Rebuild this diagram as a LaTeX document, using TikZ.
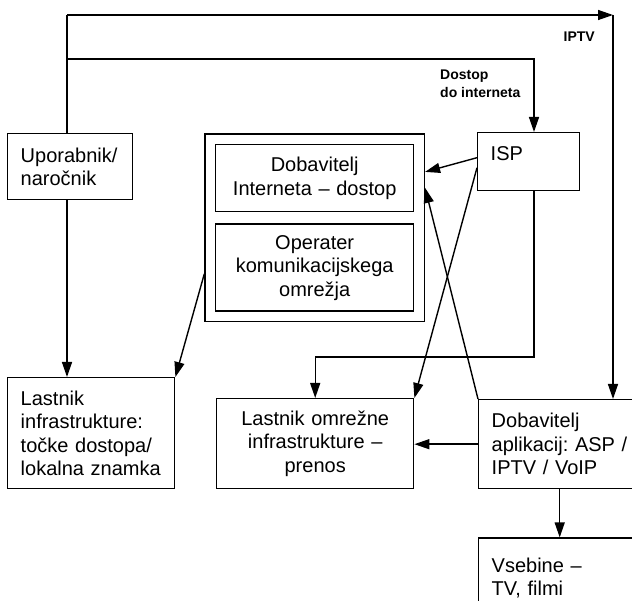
\documentclass[tikz,border=0pt]{standalone}
\usepackage{fontspec}
\setmainfont{Liberation Sans}
\usetikzlibrary{positioning, arrows.meta, fit}

\newcommand{\boxfont}{\fontsize{20}{23.5}\selectfont\frenchspacing}
\newcommand{\lblfont}{\fontsize{14}{18}\selectfont\bfseries}

\begin{document}
\begin{tikzpicture}[
    x=1pt, y=-1pt,
    font=\boxfont,
    box/.style={
        rectangle,
        draw=black,
        line width=1.4pt,
        inner xsep=13pt,
        inner ysep=0pt,
        align=left
    },
    cbox/.style={box, align=center},
    arrow/.style={-{Triangle[length=15pt, width=10pt]}, line width=1.4pt},
    line/.style={line width=1.4pt},
    labelstyle/.style={font=\lblfont, inner sep=0pt, align=left}
]
\useasboundingbox (0,0) rectangle (632,601);

% --- Levi stolpec ---
\node[box, anchor=north west, text width=99pt, minimum height=66pt] (uporabnik) at (7,133) {Uporabnik/\\naročnik};
\node[box, anchor=north west, text width=141pt, minimum height=111pt] (lastinfra) at (7,377) {Lastnik\\infrastrukture:\\točke dostopa/\\lokalna znamka};

% --- Sredina ---
\node[cbox, anchor=north west, text width=172pt, minimum height=67pt] (dobint) at (215,144) {Dobavitelj\\Interneta – dostop};
\node[cbox, below=11pt of dobint, text width=172pt, minimum height=87pt] (operater) {Operater\\komunikacijskega\\omrežja};
\node[draw, line width=1.4pt, fit=(dobint)(operater), inner sep=10pt] (okvir) {};
\node[cbox, anchor=north west, text width=171pt, minimum height=90pt] (lastomr) at (216,398) {Lastnik omrežne\\infrastrukture –\\prenos};

% --- Desni stolpec ---
\node[box, anchor=north west, text width=76pt, text height=28pt, text depth=30pt] (isp) at (477,132) {ISP};
\node[box, anchor=north west, text width=136pt, minimum height=89pt] (dobapl) at (478,399) {Dobavitelj\\aplikacij: ASP /\\IPTV / VoIP};
\node[box, below=48pt of dobapl, text width=136pt, minimum height=80pt] (vsebine) {Vsebine –\\TV, filmi};

% --- Oznake ---
\node[labelstyle, anchor=east] (iptv) at (595,37) {IPTV};
\node[labelstyle, anchor=north west] (dostop) at (440,70) {Dostop\\do interneta};

% --- Pomožne točke ---
\coordinate (zgoraj) at (67,15);
\coordinate (desno) at (613,15);
\coordinate (razcep) at (67,59);
\coordinate (ispvhod) at (534,59);
\coordinate (ispdol) at (534,357);

% --- Povezave ---
\draw[line] (uporabnik.north -| zgoraj) -- (zgoraj);
\draw[arrow] (zgoraj) -- (desno);
\draw[arrow] (desno) -- (desno |- dobapl.north);
\draw[arrow] (razcep) -- (ispvhod) -- (ispvhod |- isp.north);
\draw[arrow] (uporabnik.south -| zgoraj) -- (lastinfra.north -| zgoraj);
\draw[arrow] ([yshift=-46pt]okvir.west) -- (lastinfra.north east);
\draw[arrow] ([yshift=4pt]isp.west) -- ([yshift=56pt]okvir.east);
\draw[arrow] ([yshift=-6pt]isp.west) -- (lastomr.north east);
\draw[arrow] (dobapl.north west) -- ([yshift=40pt]okvir.east);
\draw[arrow] (isp.south -| ispdol) -- (ispdol) -| (lastomr.north);
\draw[arrow] (dobapl.west) -- (dobapl.west -| lastomr.east);
\draw[arrow] (dobapl.south) -- (vsebine.north);

\end{tikzpicture}
\end{document}
